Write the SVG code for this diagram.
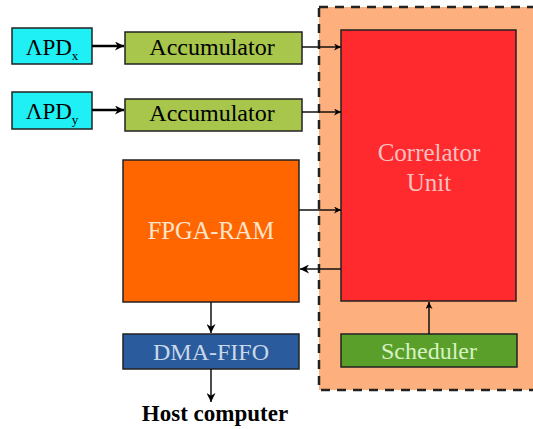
<svg xmlns="http://www.w3.org/2000/svg" width="533" height="429" viewBox="0 0 533 429">
<defs>
<style>
.box{stroke:#222;stroke-width:1.5}
.t{font-family:'Liberation Serif','Times New Roman',serif;text-anchor:middle}
.ln{stroke:#111;stroke-width:1.5;fill:none}
.thick{stroke:#000;stroke-width:2.5;fill:none}
</style>
<marker id="ah" viewBox="0 0 10 10" refX="10" refY="5" markerWidth="7" markerHeight="7" markerUnits="userSpaceOnUse" orient="auto"><path d="M0,0 L10,5 L0,10 L3,5 z" fill="#000"/></marker>
<marker id="ahb" viewBox="0 0 10 10" refX="10" refY="5" markerWidth="9" markerHeight="9" markerUnits="userSpaceOnUse" orient="auto"><path d="M0,0 L10,5 L0,10 L3,5 z" fill="#000"/></marker>
</defs>
<rect width="533" height="429" fill="#fff"/>
<g id="processing-region">
<rect x="319" y="7" width="230" height="383" fill="#fdb07e" stroke="#222" stroke-width="2.5" stroke-dasharray="9,7"/>
</g>
<g id="apd-x">
<rect class="box" x="12" y="28" width="80" height="36" fill="#1ff0f5" stroke-width="2"/>
<text class="t" x="52" y="55" font-size="23" font-family="Liberation Serif, serif">ΛPD<tspan font-size="13" dy="5">x</tspan></text>
</g>
<g id="apd-y">
<rect class="box" x="12" y="92" width="80" height="37" fill="#1ff0f5" stroke-width="2"/>
<text class="t" x="52" y="119" font-size="23" font-family="Liberation Serif, serif">ΛPD<tspan font-size="13" dy="5">y</tspan></text>
</g>
<g id="accumulator-x">
<rect class="box" x="125" y="32" width="177" height="32" fill="#a8c64c"/>
<text class="t" x="212" y="55" font-size="24" font-family="Liberation Serif, serif">Accumulator</text>
</g>
<g id="accumulator-y">
<rect class="box" x="125" y="99" width="177" height="32" fill="#a8c64c"/>
<text class="t" x="212" y="121" font-size="24" font-family="Liberation Serif, serif">Accumulator</text>
</g>
<g id="correlator-unit">
<rect class="box" x="341" y="30" width="175" height="271" fill="#ff2a2e"/>
<text class="t" x="429" y="161" font-size="25" fill="#f7c0c0" font-family="Liberation Serif, serif">Correlator</text>
<text class="t" x="429" y="191" font-size="25" fill="#f7c0c0" font-family="Liberation Serif, serif">Unit</text>
</g>
<g id="fpga-ram">
<rect class="box" x="123" y="160" width="176" height="142" fill="#ff6600"/>
<text class="t" x="211" y="239" font-size="24.5" fill="#fde4cc" font-family="Liberation Serif, serif">FPGA-RAM</text>
</g>
<g id="dma-fifo">
<rect class="box" x="123" y="334" width="176" height="35" fill="#2a5b9c"/>
<text class="t" x="211" y="360" font-size="24" fill="#c8d8ea" font-family="Liberation Serif, serif">DMA-FIFO</text>
</g>
<g id="scheduler">
<rect class="box" x="341" y="334" width="176" height="33" fill="#5a9f2a"/>
<text class="t" x="429" y="359" font-size="24" fill="#d6f2c4" font-family="Liberation Serif, serif">Scheduler</text>
</g>
<g id="host-computer">
<text class="t" x="215" y="421" font-size="23" font-weight="bold" font-family="Liberation Serif, serif">Host computer</text>
</g>
<g id="connectors">
<line class="thick" x1="92" y1="46" x2="124" y2="46" marker-end="url(#ahb)"/>
<line class="thick" x1="92" y1="110" x2="124" y2="110" marker-end="url(#ahb)"/>
<line class="ln" x1="302" y1="47" x2="341" y2="47" marker-end="url(#ah)"/>
<line class="ln" x1="302" y1="112" x2="341" y2="112" marker-end="url(#ah)"/>
<line class="ln" x1="299" y1="210" x2="341" y2="210" stroke-width="2" marker-end="url(#ah)"/>
<line class="ln" x1="341" y1="269" x2="300" y2="269" stroke-width="2" marker-end="url(#ahb)"/>
<line class="ln" x1="211" y1="302" x2="211" y2="333" stroke-width="2" marker-end="url(#ahb)"/>
<line class="ln" x1="211" y1="369" x2="211" y2="402" stroke-width="2" marker-end="url(#ahb)"/>
<line class="ln" x1="429" y1="334" x2="429" y2="302" marker-end="url(#ah)"/>
</g>
</svg>
